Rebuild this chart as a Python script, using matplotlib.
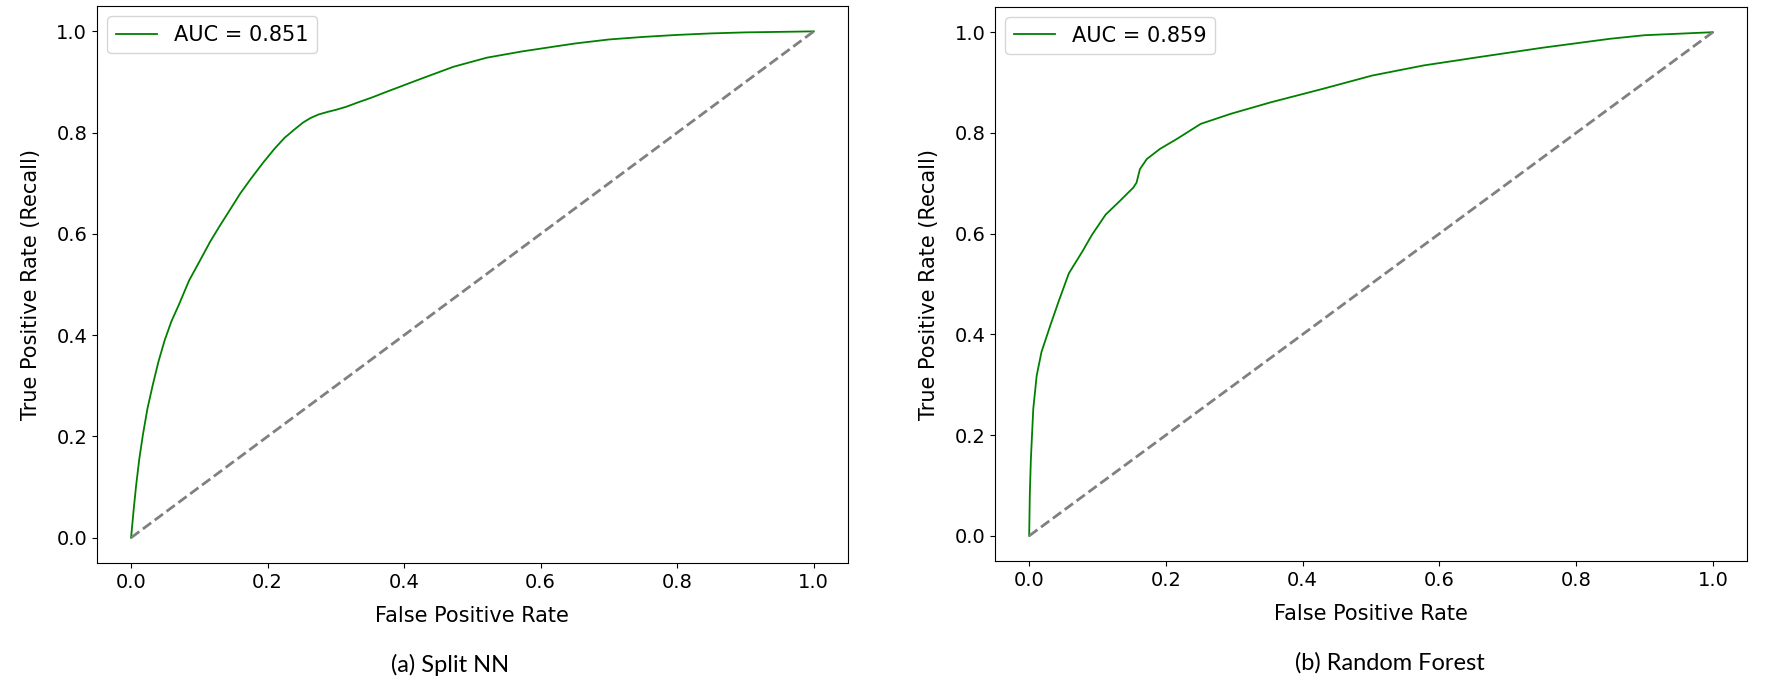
import matplotlib
matplotlib.use("Agg")
import matplotlib.pyplot as plt

# ROC curve points (FPR, TPR)
nn_fpr = [0.0, 0.004, 0.0074, 0.012, 0.0173, 0.024, 0.032, 0.040, 0.049, 0.059,
          0.070, 0.085, 0.100, 0.116, 0.130, 0.146, 0.160, 0.175, 0.193, 0.210,
          0.225, 0.240, 0.252, 0.263, 0.275, 0.288, 0.300, 0.315, 0.333, 0.352,
          0.373, 0.422, 0.472, 0.521, 0.571, 0.620, 0.65, 0.70, 0.75, 0.80,
          0.85, 0.90, 0.95, 1.0]
nn_tpr = [0.0, 0.058, 0.103, 0.155, 0.203, 0.255, 0.303, 0.347, 0.389, 0.427,
          0.460, 0.508, 0.545, 0.585, 0.616, 0.650, 0.680, 0.708, 0.740, 0.768,
          0.790, 0.807, 0.820, 0.829, 0.836, 0.841, 0.845, 0.851, 0.860, 0.869,
          0.880, 0.905, 0.930, 0.948, 0.960, 0.970, 0.976, 0.984, 0.989, 0.993,
          0.996, 0.998, 0.999, 1.0]

rf_fpr = [0.0, 0.001, 0.0025, 0.006, 0.011, 0.018, 0.031, 0.043, 0.058, 0.078,
          0.092, 0.112, 0.132, 0.152, 0.157, 0.162, 0.172, 0.191, 0.216, 0.251,
          0.295, 0.354, 0.428, 0.502, 0.577, 0.626, 0.65, 0.70, 0.75, 0.80,
          0.85, 0.90, 0.95, 1.0]
rf_tpr = [0.0, 0.085, 0.152, 0.252, 0.318, 0.365, 0.418, 0.465, 0.521, 0.565,
          0.598, 0.638, 0.664, 0.691, 0.701, 0.728, 0.748, 0.768, 0.788, 0.818,
          0.838, 0.861, 0.887, 0.914, 0.934, 0.944, 0.949, 0.959, 0.969, 0.978,
          0.987, 0.994, 0.997, 1.0]

auc_values = [0.851, 0.859]
captions = ["(a) Split NN", "(b) Random Forest"]

fig = plt.figure(figsize=(17.72, 6.95), dpi=100)
ax1 = fig.add_axes([0.0547, 0.1899, 0.4238, 0.8014])
ax2 = fig.add_axes([0.5615, 0.1928, 0.4244, 0.7971])

curves = [(nn_fpr, nn_tpr), (rf_fpr, rf_tpr)]
for ax, (fpr, tpr), auc in zip([ax1, ax2], curves, auc_values):
    ax.plot(fpr, tpr, color='green', lw=1.3, label='AUC = %.3f' % auc)
    ax.plot([0, 1], [0, 1], color='gray', lw=2, linestyle='--')
    ax.set_xlabel('False Positive Rate', fontsize=15, labelpad=10)
    ax.set_ylabel('True Positive Rate (Recall)', fontsize=15, labelpad=11)
    ax.tick_params(labelsize=14)
    ax.legend(loc='upper left', fontsize=15)

# sub-figure captions
fig.text(0.254, 0.043, captions[0], fontsize=17, family='Lato',
         ha='center', va='center')
fig.text(0.7844, 0.047, captions[1], fontsize=17, family='Lato',
         ha='center', va='center')

fig.savefig('out.png', dpi=100)
